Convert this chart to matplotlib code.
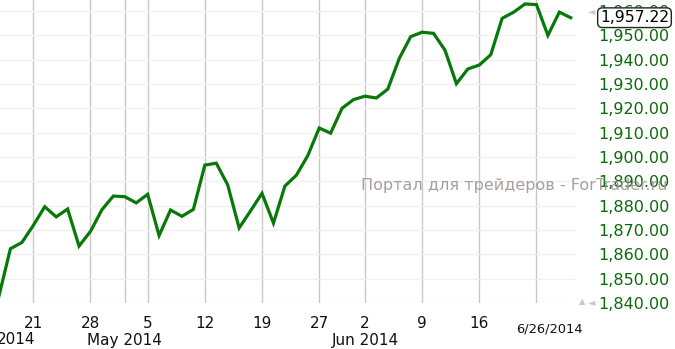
import numpy as np
import matplotlib
matplotlib.use('Agg')
import matplotlib.pyplot as plt
import matplotlib.transforms as mtransforms

# S&P 500 daily closes (trading days only)
dates = ['2014-04-14', '2014-04-15', '2014-04-16', '2014-04-17',
         '2014-04-21', '2014-04-22', '2014-04-23', '2014-04-24', '2014-04-25',
         '2014-04-28', '2014-04-29', '2014-04-30', '2014-05-01', '2014-05-02',
         '2014-05-05', '2014-05-06', '2014-05-07', '2014-05-08', '2014-05-09',
         '2014-05-12', '2014-05-13', '2014-05-14', '2014-05-15', '2014-05-16',
         '2014-05-19', '2014-05-20', '2014-05-21', '2014-05-22', '2014-05-23',
         '2014-05-27', '2014-05-28', '2014-05-29', '2014-05-30',
         '2014-06-02', '2014-06-03', '2014-06-04', '2014-06-05', '2014-06-06',
         '2014-06-09', '2014-06-10', '2014-06-11', '2014-06-12', '2014-06-13',
         '2014-06-16', '2014-06-17', '2014-06-18', '2014-06-19', '2014-06-20',
         '2014-06-23', '2014-06-24', '2014-06-25', '2014-06-26']
close = [1830.61, 1842.98, 1862.31, 1864.85,
         1871.89, 1879.55, 1875.39, 1878.61, 1863.40,
         1869.43, 1878.33, 1883.95, 1883.68, 1881.14,
         1884.66, 1867.72, 1878.21, 1875.63, 1878.48,
         1896.65, 1897.45, 1888.53, 1870.85, 1877.86,
         1885.08, 1872.83, 1888.03, 1892.49, 1900.53,
         1911.91, 1909.78, 1920.03, 1923.57,
         1924.97, 1924.24, 1927.88, 1940.46, 1949.44,
         1951.27, 1950.79, 1943.89, 1930.11, 1936.16,
         1937.78, 1941.99, 1956.98, 1959.48, 1962.87,
         1962.61, 1949.98, 1959.53, 1957.22]

tick_dates = ['2014-04-21', '2014-04-28', '2014-05-05', '2014-05-12', '2014-05-19',
              '2014-05-27', '2014-06-02', '2014-06-09', '2014-06-16']
tick_labels = ['21', '28', '5', '12', '19', '27', '2', '9', '16']
extra_grid = ['2014-05-01', '2014-06-23']
month_dates = ['2014-05-01', '2014-06-02']
month_labels = ['May 2014', 'Jun 2014']
y_ticks = list(range(1840, 1961, 10))
last_label = '6/26/2014'
watermark = 'Портал для трейдеров - ForTrader.ru'

x = np.arange(len(dates))
idx = {d: i for i, d in enumerate(dates)}

fig = plt.figure(figsize=(6.75, 3.49), dpi=100)
ax = fig.add_axes([0, 46 / 349, 575 / 675, 303 / 349])

ax.plot(x, close, color='#087808', lw=2.3, solid_joinstyle='miter', zorder=3)

ax.set_xlim(idx['2014-04-21'] - 2.912, idx['2014-04-21'] + 47.37)
ax.set_ylim(1840, 1964.5)

for s in ax.spines.values():
    s.set_visible(False)

ax.set_xticks([idx[d] for d in tick_dates])
ax.set_xticklabels(tick_labels)
ax.set_xticks([idx[d] for d in extra_grid], minor=True)
ax.tick_params(axis='x', which='both', length=0, pad=9, labelsize=11, labelcolor='#111111')
ax.grid(True, axis='x', which='both', color='#c8c8c8', lw=1)

ax.yaxis.tick_right()
ax.set_yticks(y_ticks)
ax.set_yticklabels(['{:,.2f}'.format(v) for v in y_ticks])
ax.tick_params(axis='y', length=0, pad=17, labelsize=11.5, labelcolor='#0a6a0a')
ax.grid(True, axis='y', color='#f0f0f0', lw=1)
ax.set_axisbelow(True)

# month labels under the day ticks
tr = mtransforms.blended_transform_factory(ax.transData, fig.transFigure)
for d, lab in zip(month_dates, month_labels):
    fig.text(idx[d], 1 - 340 / 349, lab, transform=tr, ha='center', va='center',
             fontsize=11, color='#111111')
fig.text(35 / 675, 1 - 340 / 349, '2014', ha='right', va='center', fontsize=11, color='#111111')
fig.text(549 / 675, 1 - 329 / 349, last_label, ha='center', va='center', fontsize=9.4,
         color='#111111')

# watermark
fig.text(514 / 675, 1 - 185 / 349, watermark, ha='center', va='center', fontsize=11.5,
         color='#a09494', alpha=0.9, zorder=5)

# scroll markers
fig.text(592 / 675, 1 - 11 / 349, '◄', ha='center', va='center', fontsize=7, color='#c8c8c8')
fig.text(582 / 675, 1 - 302 / 349, '▲', ha='center', va='center', fontsize=6, color='#c8c8c8')
fig.text(592 / 675, 1 - 302 / 349, '◄', ha='center', va='center', fontsize=7, color='#c8c8c8')

# last value box
trv = mtransforms.blended_transform_factory(fig.transFigure, ax.transData)
fig.text(600 / 675, close[-1], '{:,.2f}'.format(close[-1]), transform=trv,
         ha='left', va='center', fontsize=11.2, color='black', zorder=6,
         bbox=dict(boxstyle='round,pad=0.15,rounding_size=0.3', fc='white', ec='#222222', lw=1))

fig.savefig('out.png', dpi=100)
